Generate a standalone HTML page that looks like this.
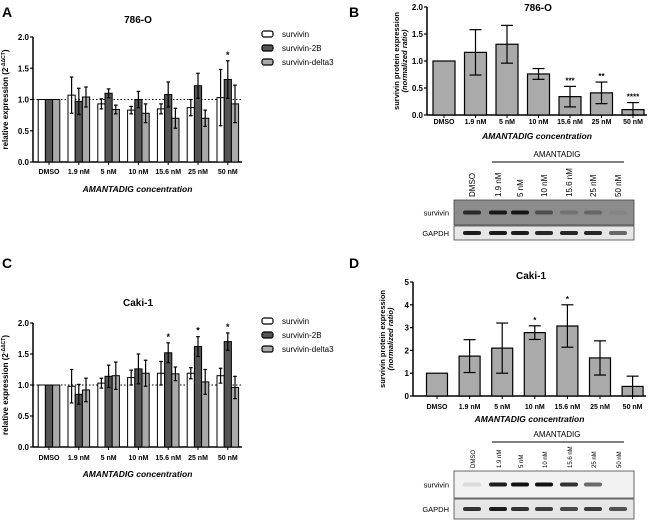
<!DOCTYPE html>
<html><head><meta charset="utf-8"><style>
body{margin:0;background:#fff;}
svg{display:block;font-family:"Liberation Sans",sans-serif;}
</style></head><body>
<svg id="fig" width="650" height="521" viewBox="0 0 650 521">
<text x="2" y="17" font-size="14" font-weight="bold">A</text>
<text x="349" y="17" font-size="14" font-weight="bold">B</text>
<text x="2" y="268" font-size="14" font-weight="bold">C</text>
<text x="349" y="268" font-size="14" font-weight="bold">D</text>
<g id="g"></g>
</svg>
<script>
const categories=["DMSO","1.9 nM","5 nM","10 nM","15.6 nM","25 nM","50 nM"];
const seriesNames=["survivin","survivin-2B","survivin-delta3"];
const aSurv=[1,1.07,0.93,0.83,0.85,0.87,1.03], aSurvErr=[0,0.29,0.08,0.06,0.08,0.13,0.45];
const a2B=[1,0.97,1.10,1.00,1.08,1.22,1.32], a2BErr=[0,0.21,0.07,0.13,0.20,0.20,0.30];
const aD3=[1,1.04,0.84,0.78,0.70,0.70,0.93], aD3Err=[0,0.16,0.07,0.15,0.16,0.13,0.30];
const aStars=[["","",""],["","",""],["","",""],["","",""],["","",""],["","",""],["","*",""]];
const cSurv=[1,0.98,1.03,1.12,1.19,1.19,1.15], cSurvErr=[0,0.27,0.08,0.12,0.19,0.09,0.12];
const c2B=[1,0.85,1.14,1.26,1.52,1.62,1.70], c2BErr=[0,0.16,0.18,0.24,0.16,0.16,0.14];
const cD3=[1,0.92,1.15,1.19,1.18,1.05,0.96], cD3Err=[0,0.19,0.22,0.21,0.11,0.20,0.18];
const cStars=[["","",""],["","",""],["","",""],["","",""],["","*",""],["","*",""],["","*",""]];
const groupTicks=["0.0","0.5","1.0","1.5","2.0"], groupTickVals=[0,0.5,1,1.5,2];
const bVals=[1,1.16,1.31,0.76,0.34,0.41,0.10], bErr=[0,0.42,0.35,0.10,0.19,0.20,0.13];
const bStars=["","","","","***","**","****"];
const bTicks=["0.0","0.5","1.0","1.5","2.0"], bTickVals=[0,0.5,1,1.5,2];
const dVals=[1,1.75,2.10,2.78,3.07,1.67,0.42], dErr=[0,0.72,1.10,0.30,0.93,0.75,0.45];
const dStars=["","","","*","*","",""];
const dTicks=["0","1","2","3","4","5"], dTickVals=[0,1,2,3,4,5];

const NS="http://www.w3.org/2000/svg", G=document.getElementById('g');
function el(t,a,txt){const e=document.createElementNS(NS,t);for(const k in a)e.setAttribute(k,a[k]);if(txt!==undefined)e.textContent=txt;G.appendChild(e);return e;}
function errBar(x,yT,yB,w){el('line',{x1:x,x2:x,y1:yT,y2:yB,stroke:'#000','stroke-width':1.2});el('line',{x1:x-w,x2:x+w,y1:yT,y2:yT,stroke:'#000','stroke-width':1.2});el('line',{x1:x-w,x2:x+w,y1:yB,y2:yB,stroke:'#000','stroke-width':1.2});}
function axes(p,ticks,vals,max){
  const y=v=>p.y0-(v/max)*(p.y0-p.y1);
  let e=el('line',{x1:p.x0,x2:p.x0,y1:p.y1,y2:p.y0,stroke:'#000','stroke-width':1.5});
  
  e=el('line',{x1:p.x0,x2:p.x2,y1:p.y0,y2:p.y0,stroke:'#000','stroke-width':1.5});
  
  vals.forEach((v,i)=>{el('line',{x1:p.x0-3,x2:p.x0,y1:y(v),y2:y(v),stroke:'#000','stroke-width':1.2});
    e=el('text',{x:p.x0-4,y:y(v)+3,'font-size':8,'font-weight':'bold','text-anchor':'end'},ticks[i]);
    });
  categories.forEach((c,i)=>{const cx=p.cx0+i*p.dx;el('line',{x1:cx,x2:cx,y1:p.y0,y2:p.y0+3,stroke:'#000'});
    e=el('text',{x:cx,y:p.ty,'font-size':7,'font-weight':'bold','text-anchor':'middle'},c);
    });
  e=el('text',{x:(p.x0+p.x2)/2,y:p.xt,'font-size':8.5,'font-weight':'bold','font-style':'italic','text-anchor':'middle'},'AMANTADIG concentration');
  
  e=el('text',{x:p.tx,y:p.tty,'font-size':10,'font-weight':'bold','text-anchor':'middle'},p.title);
  
  return y;
}
function grouped(p,series,errs,stars){
  const y=axes(p,groupTicks,groupTickVals,2);
  const fills=['#fff','#555','#aaa'],bw=7.2;
  let e=el('line',{x1:p.x0,x2:p.x2,y1:y(1),y2:y(1),stroke:'#000','stroke-dasharray':'1.5,2','stroke-width':1});
  
  categories.forEach((c,i)=>{const cx=p.cx0+i*p.dx;
    series.forEach((s,j)=>{const bx=cx+(j-1.5)*bw;
      e=el('rect',{x:bx,y:y(s[i]),width:bw,height:p.y0-y(s[i]),fill:fills[j],stroke:'#000','stroke-width':1});
      
      const m=bx+bw/2;
      if(errs[j][i]>0)errBar(m,y(s[i]+errs[j][i]),y(s[i]-errs[j][i]),1.8);
      if(stars[i][j]){e=el('text',{x:m,y:y(s[i]+errs[j][i])-3,'font-size':9,'font-weight':'bold','text-anchor':'middle'},stars[i][j]);
        }
    });});
  seriesNames.forEach((n,j)=>{const ly=p.ly+j*14;
    e=el('rect',{x:262,y:ly-3,width:11,height:6,rx:2,fill:fills[j],stroke:'#000','stroke-width':1.2});
    
    e=el('text',{x:282,y:ly+3,'font-size':8},n);
    });
  const t=el('text',{transform:`translate(8,${(p.y0+p.y1)/2}) rotate(-90)`,'font-size':8,'font-weight':'bold','text-anchor':'middle'},'relative expression (2');
  const ts=document.createElementNS(NS,'tspan');ts.setAttribute('dy','-3');ts.setAttribute('font-size','5');ts.textContent='-ΔΔCT';t.appendChild(ts);
  const ts2=document.createElementNS(NS,'tspan');ts2.setAttribute('dy','3');ts2.textContent=')';t.appendChild(ts2);
  
}
function single(p,vals,errs,stars,ticks,tv,max){
  const y=axes(p,ticks,tv,max);let e;
  categories.forEach((c,i)=>{const cx=p.cx0+i*p.dx;
    e=el('rect',{x:cx-p.bw/2,y:y(vals[i]),width:p.bw,height:p.y0-y(vals[i]),fill:'#aaa',stroke:'#000','stroke-width':1.2});
    
    if(errs[i]>0)errBar(cx,y(vals[i]+errs[i]),y(Math.max(vals[i]-errs[i],0)),6);
    if(stars[i]){e=el('text',{x:cx,y:y(vals[i]+errs[i])-3,'font-size':8,'font-weight':'bold','text-anchor':'middle'},stars[i]);
      }
  });
  const yc=(p.y0+p.y1)/2;
  e=el('text',{transform:`translate(${p.x0-28},${yc}) rotate(-90)`,'font-size':7.5,'font-weight':'bold','text-anchor':'middle'},'survivin protein expression');
  
  e=el('text',{transform:`translate(${p.x0-20},${yc}) rotate(-90)`,'font-size':7.5,'font-weight':'bold','font-style':'italic','text-anchor':'middle'},'(normalized ratio)');
  
}
function blot(id,top,labBottom,labSize,s0,h1,h2,survBg,intens,gapd){
  const lanes=[472,498,520,544,569,593,618];let e;
  e=el('text',{x:557,y:top,'font-size':8,'text-anchor':'middle'},'AMANTADIG');
  
  el('line',{x1:492,x2:624,y1:top+5,y2:top+5,stroke:'#000','stroke-width':1});
  categories.forEach((c,i)=>{e=el('text',{transform:`translate(${lanes[i]+3},${labBottom}) rotate(-90)`,'font-size':labSize},c);
    });
  e=el('rect',{x:454,y:s0,width:180,height:h1,fill:survBg,stroke:'#444','stroke-width':0.8});
  
  e=el('rect',{x:454,y:s0+h1+1,width:180,height:h2,fill:'#e6e6e6',stroke:'#444','stroke-width':0.8});
  
  const g0=s0+h1+1+h2/2;
  lanes.forEach((x,i)=>{if(intens[i]>0)el('rect',{x:x-9,y:s0+h1/2-2,width:18,height:4,rx:2,fill:'#111','fill-opacity':intens[i]});
    el('rect',{x:x-9,y:g0-2,width:18,height:4,rx:2,fill:'#111','fill-opacity':gapd[i]});});
  e=el('text',{x:449,y:s0+h1/2+3,'font-size':7.5,'text-anchor':'end'},'survivin');
  
  e=el('text',{x:449,y:g0+3,'font-size':7.5,'text-anchor':'end'},'GAPDH');
  
}
grouped({id:'panel-a',x0:33,x2:242,y0:162,y1:37,cx0:49,dx:29.8,ty:174,xt:192,tx:138,tty:23,title:'786-O',ly:34},[aSurv,a2B,aD3],[aSurvErr,a2BErr,aD3Err],aStars);
grouped({id:'panel-c',x0:33,x2:242,y0:447,y1:323,cx0:49,dx:29.8,ty:460,xt:477,tx:138,tty:306,title:'Caki-1',ly:321},[cSurv,c2B,cD3],[cSurvErr,c2BErr,cD3Err],cStars);
single({id:'panel-b',x0:427,x2:647,y0:115,y1:7,cx0:444,dx:31.5,bw:22,ty:124,xt:139,tx:538,tty:11,title:'786-O'},bVals,bErr,bStars,bTicks,bTickVals,2);
single({id:'panel-d',x0:413,x2:646,y0:396,y1:282,cx0:437,dx:32.6,bw:21,ty:409,xt:422,tx:531,tty:279,title:'Caki-1'},dVals,dErr,dStars,dTicks,dTickVals,5);
blot('blot-b',157,197,8,200,25,14,'#8c8c8c',[0.8,0.95,0.95,0.5,0.2,0.3,0.05],[0.95,0.95,0.95,0.9,0.9,0.9,0.6]);
blot('blot-d',437,468,6,471,27,20,'#f2f2f2',[0.1,0.95,1,1,0.85,0.6,0],[0.85,0.95,0.85,0.8,0.75,0.8,0.7]);
</script>
</body></html>
